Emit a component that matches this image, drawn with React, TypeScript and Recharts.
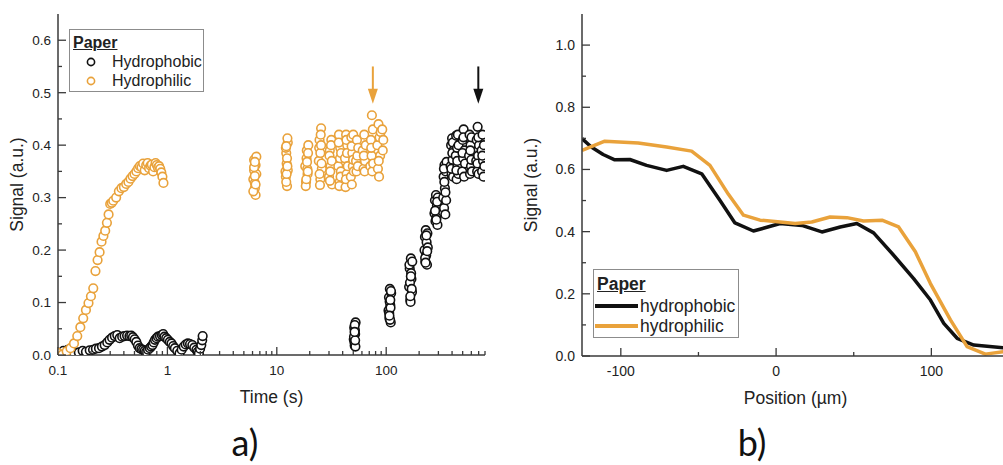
import {
  ScatterChart,
  Scatter,
  LineChart,
  Line,
  XAxis,
  YAxis,
  ReferenceLine,
  Legend
} from 'recharts'

const ORANGE = '#E9A23B'
const BLACK = '#111111'
const AXIS = '#3a3a3a'
const TEXT = '#222222'
const FONT = "'Liberation Sans', Arial, Helvetica, sans-serif"

// ---- panel a: signal vs time, [t (s), signal (a.u.)]
const phobicEarly: [number, number][] = [
  [0.1, 0.003], [0.112, 0.008], [0.123, 0.01], [0.138, 0.006], [0.155, 0.005],
  [0.168, 0.008], [0.18, 0.006], [0.195, 0.009], [0.209, 0.01], [0.222, 0.012],
  [0.237, 0.013], [0.252, 0.016], [0.267, 0.019], [0.282, 0.024], [0.296, 0.029],
  [0.312, 0.033], [0.33, 0.036], [0.348, 0.038], [0.366, 0.032], [0.386, 0.035],
  [0.406, 0.036], [0.428, 0.037], [0.45, 0.036], [0.467, 0.037], [0.484, 0.034],
  [0.502, 0.03], [0.52, 0.025], [0.538, 0.018], [0.557, 0.013], [0.578, 0.011],
  [0.6, 0.01], [0.62, 0.008], [0.64, 0.006], [0.665, 0.01], [0.69, 0.013],
  [0.71, 0.016], [0.73, 0.019], [0.75, 0.024], [0.77, 0.029], [0.795, 0.032],
  [0.82, 0.035], [0.855, 0.036], [0.89, 0.038], [0.915, 0.04], [0.94, 0.035],
  [0.975, 0.032], [1.01, 0.029], [1.05, 0.025], [1.09, 0.022], [1.13, 0.017],
  [1.17, 0.013], [1.23, 0.008], [1.29, 0.003], [1.35, 0.01], [1.41, 0.016],
  [1.47, 0.02], [1.54, 0.022], [1.61, 0.021], [1.69, 0.019], [1.76, 0.014],
  [1.84, 0.01], [1.89, 0.006], [1.94, 0.003], [1.99, 0.012], [2.04, 0.019],
  [2.08, 0.028], [2.1, 0.036]
]

// repeated measurement bursts, one group per line
const phobicBursts: [number, number][] = [
  [50.5, 0.03], [51, 0.052], [51.5, 0.018], [52, 0.04], [52.5, 0.062], [51.2, 0.025], [51.8, 0.047], [52.3, 0.016], [50.8, 0.035], [51.6, 0.057], [52.0, 0.028], [51.4, 0.044],
  [105, 0.085], [106, 0.11], [107, 0.07], [108, 0.126], [109, 0.095], [110, 0.062], [111, 0.118], [106.5, 0.08], [107.5, 0.102], [108.5, 0.067], [109.5, 0.09], [110.5, 0.122], [107, 0.075], [109, 0.105],
  [162, 0.13], [164, 0.165], [166, 0.105], [168, 0.184], [170, 0.145], [172, 0.12], [163, 0.172], [165, 0.138], [167, 0.101], [169, 0.156], [171, 0.126], [173, 0.178], [166, 0.112], [168, 0.15],
  [224, 0.2], [226, 0.225], [228, 0.178], [230, 0.238], [232, 0.19], [234, 0.215], [236, 0.172], [238, 0.232], [240, 0.205], [227, 0.185], [233, 0.228], [237, 0.198], [229, 0.176],
  [276, 0.27], [279, 0.295], [282, 0.255], [285, 0.305], [288, 0.262], [291, 0.285], [294, 0.248], [296, 0.3], [280, 0.275], [287, 0.258], [292, 0.292],
  [332, 0.3], [335, 0.34], [338, 0.28], [341, 0.362], [344, 0.318], [347, 0.268], [350, 0.35], [353, 0.295], [356, 0.368], [340, 0.33], [348, 0.31], [337, 0.355],
  [388, 0.36], [392, 0.4], [396, 0.345], [400, 0.413], [404, 0.372], [408, 0.34], [412, 0.39], [394, 0.355], [402, 0.385], [406, 0.405],
  [432, 0.38], [436, 0.418], [440, 0.335], [444, 0.395], [448, 0.36], [452, 0.42], [456, 0.345], [458, 0.4], [446, 0.37], [438, 0.352],
  [495, 0.35], [500, 0.41], [505, 0.375], [510, 0.43], [515, 0.34], [520, 0.39], [525, 0.365], [508, 0.415], [498, 0.385],
  [572, 0.38], [578, 0.42], [584, 0.345], [590, 0.4], [596, 0.36], [602, 0.415], [608, 0.35], [587, 0.39], [599, 0.372],
  [665, 0.37], [672, 0.41], [678, 0.35], [685, 0.435], [692, 0.38], [698, 0.345], [705, 0.4], [682, 0.365], [695, 0.415],
  [745, 0.39], [752, 0.35], [760, 0.42], [768, 0.37], [775, 0.34], [782, 0.4], [788, 0.36], [756, 0.38]
]

const philicEarly: [number, number][] = [
  [0.1, 0.004], [0.11, 0.001], [0.12, 0.007], [0.13, 0.013], [0.14, 0.022],
  [0.15, 0.036], [0.16, 0.053], [0.17, 0.07], [0.18, 0.086], [0.19, 0.099],
  [0.2, 0.112], [0.21, 0.127], [0.22, 0.16], [0.23, 0.181], [0.24, 0.196],
  [0.25, 0.216], [0.26, 0.227], [0.27, 0.237], [0.28, 0.252], [0.29, 0.268],
  [0.3, 0.288], [0.31, 0.29], [0.32, 0.294], [0.34, 0.3], [0.36, 0.312],
  [0.38, 0.318], [0.4, 0.32], [0.42, 0.326], [0.44, 0.33], [0.46, 0.336],
  [0.48, 0.341], [0.5, 0.345], [0.52, 0.35], [0.54, 0.356], [0.56, 0.36],
  [0.58, 0.358], [0.6, 0.365], [0.62, 0.352], [0.64, 0.362], [0.66, 0.366],
  [0.68, 0.356], [0.7, 0.361], [0.72, 0.363], [0.74, 0.35], [0.76, 0.358],
  [0.78, 0.366], [0.8, 0.362], [0.82, 0.357], [0.84, 0.36], [0.86, 0.355],
  [0.88, 0.348], [0.9, 0.34], [0.92, 0.328]
]

const philicBursts: [number, number][] = [
  [6.1, 0.335], [6.3, 0.318], [6.2, 0.352], [6.4, 0.305], [6.5, 0.345], [6.2, 0.372], [6.3, 0.328], [6.4, 0.362], [6.1, 0.312], [6.5, 0.378], [6.3, 0.341], [6.2, 0.358], [6.4, 0.325], [6.3, 0.368],
  [12.0, 0.35], [12.2, 0.385], [12.4, 0.322], [12.6, 0.405], [12.1, 0.34], [12.3, 0.365], [12.5, 0.413], [12.2, 0.33], [12.4, 0.375], [12.6, 0.352], [12.1, 0.395], [12.3, 0.345], [12.5, 0.36], [12.2, 0.398],
  [18.2, 0.36], [18.5, 0.33], [18.8, 0.39], [19.1, 0.345], [19.4, 0.4], [18.4, 0.322], [18.7, 0.375], [19.0, 0.355], [19.3, 0.385], [18.6, 0.335], [18.9, 0.368], [19.2, 0.35],
  [24.2, 0.37], [24.6, 0.41], [25.0, 0.335], [25.4, 0.432], [25.8, 0.355], [24.4, 0.395], [24.8, 0.324], [25.2, 0.42], [25.6, 0.365], [24.6, 0.345], [25.0, 0.385], [25.4, 0.4],
  [30.0, 0.34], [30.5, 0.39], [31.0, 0.36], [31.5, 0.41], [32.0, 0.325], [30.3, 0.38], [30.8, 0.35], [31.3, 0.4], [31.8, 0.37], [30.6, 0.332],
  [36.5, 0.36], [37, 0.42], [37.5, 0.33], [38, 0.395], [38.5, 0.35], [36.8, 0.405], [37.3, 0.322], [37.8, 0.375], [38.3, 0.34], [38.7, 0.385],
  [42, 0.375], [42.5, 0.32], [43, 0.42], [43.5, 0.345], [44, 0.4], [44.5, 0.36], [42.8, 0.335], [43.3, 0.41], [43.8, 0.385],
  [47.5, 0.34], [48, 0.415], [48.5, 0.325], [49, 0.385], [49.5, 0.36], [50, 0.42], [50.5, 0.35], [48.3, 0.398], [49.8, 0.372],
  [53, 0.37], [53.5, 0.35], [54, 0.41], [54.5, 0.38], [55, 0.36], [55.5, 0.395],
  [61, 0.39], [62, 0.355], [63, 0.42], [64, 0.37], [65, 0.4], [62.5, 0.38], [63.5, 0.35],
  [71.5, 0.36], [72.5, 0.41], [73.5, 0.38], [74, 0.457], [74.5, 0.35], [75.5, 0.43], [73, 0.395], [76, 0.365],
  [83, 0.4], [84, 0.355], [85, 0.44], [86, 0.34], [87, 0.415], [88, 0.38], [89, 0.425], [85.5, 0.37],
  [92, 0.43], [93, 0.39], [94, 0.41]
]

// arrows marking the end points
const arrowTimes = { philic: 75.5, phobic: 695 }
const arrowFrom = 0.55
const arrowTo = 0.479

const timeMajor = [0.1, 1, 10, 100]
const timeMinor = [
  0.2, 0.3, 0.4, 0.5, 0.6, 0.7, 0.8, 0.9, 2, 3, 4, 5, 6, 7, 8, 9,
  20, 30, 40, 50, 60, 70, 80, 90, 200, 300, 400, 500, 600, 700, 800
]
const signalAMajor = [0, 0.1, 0.2, 0.3, 0.4, 0.5, 0.6]
const signalAMinor = [0.05, 0.15, 0.25, 0.35, 0.45, 0.55]

// ---- panel b: signal vs position, [x (um), signal]
const phobicProfile: [number, number][] = [
  [-125, 0.699], [-119, 0.672], [-111.4, 0.648], [-103.9, 0.631], [-94.2, 0.632],
  [-83.4, 0.613], [-70.5, 0.597], [-59.8, 0.61], [-47.9, 0.586], [-36.1, 0.5],
  [-26.5, 0.428], [-14.6, 0.402], [2.6, 0.426], [16.6, 0.42], [29.5, 0.399],
  [41.3, 0.415], [52, 0.426], [62.8, 0.396], [75.7, 0.324], [88.6, 0.249],
  [99.4, 0.18], [108, 0.105], [116.6, 0.057], [127.3, 0.035], [150, 0.025]
]
const philicProfile: [number, number][] = [
  [-125, 0.661], [-110.3, 0.691], [-88.8, 0.685], [-70.5, 0.672], [-54.4, 0.659],
  [-42.6, 0.613], [-30.7, 0.52], [-21, 0.453], [-10.3, 0.437], [1, 0.432],
  [12.3, 0.426], [23, 0.431], [34.8, 0.447], [45.6, 0.445], [56.3, 0.434],
  [68.2, 0.437], [78.9, 0.415], [89.7, 0.335], [99.4, 0.233], [112.3, 0.116],
  [123, 0.03], [134.8, 0.006], [146.6, 0.014], [150, 0.015]
]

const posMajor = [-100, 0, 100]
const posMinor = [-50, 50]
const signalBMajor = [0, 0.2, 0.4, 0.6, 0.8, 1.0]
const signalBMinor = [0.1, 0.3, 0.5, 0.7, 0.9]

const namesA = ['Hydrophobic', 'Hydrophilic']
const namesB = ['hydrophobic', 'hydrophilic']

type Side = 'bottom' | 'top' | 'left' | 'right'

// inward tick marks (long for majors), labels only on bottom/left majors
function makeTick(side: Side, majors: number[], fmt: ((v: number) => string) | null, fontSize: number) {
  return (props: any) => {
    const { x, y, payload } = props
    const v = payload.value as number
    const isMajor = majors.includes(v)
    const len = isMajor ? 8 : 4
    let d = `M${x},${y}v${-len}`
    if (side === 'top') d = `M${x},${y}v${len}`
    if (side === 'left') d = `M${x},${y}h${len}`
    if (side === 'right') d = `M${x},${y}h${-len}`
    let label = null
    if (fmt && isMajor && side === 'bottom') {
      label = (
        <text x={x} y={y + 10} dy="0.71em" textAnchor="middle" fill={TEXT} fontSize={fontSize} fontFamily={FONT}>
          {fmt(v)}
        </text>
      )
    }
    if (fmt && isMajor && side === 'left') {
      label = (
        <text x={x - 7} y={y} dy="0.36em" textAnchor="end" fill={TEXT} fontSize={fontSize} fontFamily={FONT}>
          {fmt(v)}
        </text>
      )
    }
    return (
      <g>
        <path d={d} stroke={AXIS} strokeWidth={1.3} fill="none" />
        {label}
      </g>
    )
  }
}

const ring = (color: string) => (p: any) => (
  <circle cx={p.cx} cy={p.cy} r={4.3} fill="#fff" stroke={color} strokeWidth={1.6} />
)

const arrow = (color: string) => (p: any) => {
  const { x1, y1, x2, y2 } = p
  return (
    <g>
      <line x1={x1} y1={y1} x2={x2} y2={y2 - 12} stroke={color} strokeWidth={2} />
      <path d={`M${x2 - 5},${y2 - 15}L${x2 + 5},${y2 - 15}L${x2},${y2}Z`} fill={color} />
    </g>
  )
}

const toTV = (arr: [number, number][]) => arr.map(([t, v]) => ({ t, v }))
const toPV = (arr: [number, number][]) => arr.map(([pos, v]) => ({ pos, v }))

const legendHead: React.CSSProperties = {
  position: 'absolute',
  fontWeight: 'bold',
  textDecoration: 'underline'
}

function LegendA() {
  const colors = [BLACK, ORANGE]
  return (
    <div style={{ position: 'relative', width: 135, height: 63, boxSizing: 'border-box', border: '1px solid #8c8c8c', background: '#fff', fontFamily: FONT, fontSize: 16, lineHeight: '16px', color: TEXT }}>
      <div style={{ ...legendHead, left: 3, top: 5 }}>Paper</div>
      {namesA.map((n, i) => (
        <div key={n} style={{ position: 'absolute', left: 0, top: 24 + i * 19, height: 16, width: 135 }}>
          <svg width={30} height={16} style={{ position: 'absolute', left: 6, top: 0 }}>
            <circle cx={15} cy={8} r={3.6} fill="#fff" stroke={colors[i]} strokeWidth={1.6} />
          </svg>
          <span style={{ position: 'absolute', left: 42, top: 0 }}>{n}</span>
        </div>
      ))}
    </div>
  )
}

function LegendB() {
  const colors = [BLACK, ORANGE]
  return (
    <div style={{ position: 'relative', width: 146, height: 69, boxSizing: 'border-box', border: '1px solid #8c8c8c', background: '#fff', fontFamily: FONT, fontSize: 17.5, lineHeight: '18px', color: TEXT }}>
      <div style={{ ...legendHead, left: 3, top: 5 }}>Paper</div>
      {namesB.map((n, i) => (
        <div key={n} style={{ position: 'absolute', left: 0, top: 27 + i * 20, height: 18, width: 146 }}>
          <svg width={46} height={18} style={{ position: 'absolute', left: 0, top: 0 }}>
            <line x1={1} y1={9} x2={44} y2={9} stroke={colors[i]} strokeWidth={4} />
          </svg>
          <span style={{ position: 'absolute', left: 46, top: 0 }}>{n}</span>
        </div>
      ))}
    </div>
  )
}

const axisTitle = { fill: TEXT, fontSize: 17.5, fontFamily: FONT }

export default function App() {
  const tA = toTV([...phobicEarly, ...phobicBursts])
  const hA = toTV([...philicEarly, ...philicBursts])
  return (
    <div style={{ position: 'fixed', left: 0, top: 0, width: 1003, height: 465, overflow: 'hidden', background: '#fff' }}>
      <div style={{ position: 'absolute', left: 0, top: 0 }}>
        <ScatterChart width={500} height={465} margin={{ top: 14, right: 15, bottom: 0, left: 0 }}>
          <XAxis
            xAxisId="a"
            dataKey="t"
            type="number"
            scale="log"
            domain={[0.1, 800]}
            allowDataOverflow
            ticks={[...timeMajor, ...timeMinor]}
            interval={0}
            height={110}
            tickSize={0}
            tickMargin={0}
            tickLine={false}
            tick={makeTick('bottom', timeMajor, (v) => String(v), 13.5)}
            stroke={AXIS}
            strokeWidth={1.5}
            label={{ value: 'Time (s)', position: 'insideTop', offset: 36, ...axisTitle }}
          />
          <XAxis
            xAxisId="aTop"
            orientation="top"
            type="number"
            scale="log"
            domain={[0.1, 800]}
            allowDataOverflow
            ticks={[...timeMajor, ...timeMinor]}
            interval={0}
            height={0}
            tickSize={0}
            tickMargin={0}
            tickLine={false}
            tick={makeTick('top', timeMajor, null, 13)}
            stroke={AXIS}
            strokeWidth={1.5}
          />
          <YAxis
            yAxisId="a"
            dataKey="v"
            type="number"
            domain={[0, 0.65]}
            allowDataOverflow
            ticks={[...signalAMajor, ...signalAMinor]}
            interval={0}
            width={58}
            tickSize={0}
            tickMargin={0}
            tickLine={false}
            tick={makeTick('left', signalAMajor, (v) => v.toFixed(1), 13.5)}
            stroke={AXIS}
            strokeWidth={1.5}
            label={{ value: 'Signal (a.u.)', angle: -90, position: 'insideLeft', offset: 17, style: { textAnchor: 'middle' }, ...axisTitle }}
          />
          <YAxis
            yAxisId="aRight"
            orientation="right"
            type="number"
            domain={[0, 0.65]}
            allowDataOverflow
            ticks={[...signalAMajor, ...signalAMinor]}
            interval={0}
            width={0}
            tickSize={0}
            tickMargin={0}
            tickLine={false}
            tick={makeTick('right', signalAMajor, null, 13)}
            stroke={AXIS}
            strokeWidth={1.5}
          />
          <Scatter xAxisId="a" yAxisId="a" name={namesA[0]} data={tA} shape={ring(BLACK)} isAnimationActive={false} />
          <Scatter xAxisId="a" yAxisId="a" name={namesA[1]} data={hA} shape={ring(ORANGE)} isAnimationActive={false} />
          <ReferenceLine
            xAxisId="a"
            yAxisId="a"
            segment={[{ x: arrowTimes.philic, y: arrowFrom }, { x: arrowTimes.philic, y: arrowTo }]}
            shape={arrow(ORANGE)}
          />
          <ReferenceLine
            xAxisId="a"
            yAxisId="a"
            segment={[{ x: arrowTimes.phobic, y: arrowFrom }, { x: arrowTimes.phobic, y: arrowTo }]}
            shape={arrow(BLACK)}
          />
          <Legend
            layout="horizontal"
            verticalAlign="middle"
            align="center"
            wrapperStyle={{ left: 69, top: 29, width: 135, height: 63 }}
            content={() => <LegendA />}
          />
        </ScatterChart>
      </div>

      <div style={{ position: 'absolute', left: 520, top: 0 }}>
        <LineChart width={500} height={465} margin={{ top: 14, right: 11, bottom: 0, left: 0 }}>
          <XAxis
            xAxisId="b"
            dataKey="pos"
            type="number"
            domain={[-125, 150]}
            allowDataOverflow
            ticks={[...posMajor, ...posMinor]}
            interval={0}
            height={109}
            tickSize={0}
            tickMargin={0}
            tickLine={false}
            tick={makeTick('bottom', posMajor, (v) => String(v), 14)}
            stroke={AXIS}
            strokeWidth={1.5}
            label={{ value: 'Position (µm)', position: 'insideTop', offset: 36, ...axisTitle }}
          />
          <XAxis
            xAxisId="bTop"
            orientation="top"
            type="number"
            domain={[-125, 150]}
            allowDataOverflow
            ticks={[...posMajor, ...posMinor]}
            interval={0}
            height={0}
            tickSize={0}
            tickMargin={0}
            tickLine={false}
            tick={makeTick('top', posMajor, null, 14)}
            stroke={AXIS}
            strokeWidth={1.5}
          />
          <YAxis
            yAxisId="b"
            dataKey="v"
            type="number"
            domain={[0, 1.1]}
            allowDataOverflow
            ticks={[...signalBMajor, ...signalBMinor]}
            interval={0}
            width={62}
            tickSize={0}
            tickMargin={0}
            tickLine={false}
            tick={makeTick('left', signalBMajor, (v) => v.toFixed(1), 14)}
            stroke={AXIS}
            strokeWidth={1.5}
            label={{ value: 'Signal (a.u.)', angle: -90, position: 'insideLeft', offset: 11, style: { textAnchor: 'middle' }, ...axisTitle }}
          />
          <YAxis
            yAxisId="bRight"
            orientation="right"
            type="number"
            domain={[0, 1.1]}
            allowDataOverflow
            ticks={[...signalBMajor, ...signalBMinor]}
            interval={0}
            width={0}
            tickSize={0}
            tickMargin={0}
            tickLine={false}
            tick={makeTick('right', signalBMajor, null, 14)}
            stroke={AXIS}
            strokeWidth={1.5}
          />
          <Line
            xAxisId="b"
            yAxisId="b"
            name={namesB[0]}
            data={toPV(phobicProfile)}
            dataKey="v"
            type="linear"
            stroke={BLACK}
            strokeWidth={3.5}
            strokeLinejoin="round"
            dot={false}
            activeDot={false}
            isAnimationActive={false}
          />
          <Line
            xAxisId="b"
            yAxisId="b"
            name={namesB[1]}
            data={toPV(philicProfile)}
            dataKey="v"
            type="linear"
            stroke={ORANGE}
            strokeWidth={3.5}
            strokeLinejoin="round"
            dot={false}
            activeDot={false}
            isAnimationActive={false}
          />
          <Legend
            layout="horizontal"
            verticalAlign="middle"
            align="center"
            wrapperStyle={{ left: 73, top: 269, width: 146, height: 69 }}
            content={() => <LegendB />}
          />
        </LineChart>
      </div>

      <div style={{ position: 'absolute', left: 195, top: 424, width: 100, textAlign: 'center', fontFamily: 'Lato, sans-serif', fontSize: 36, lineHeight: '36px', color: '#111' }}>
        a)
      </div>
      <div style={{ position: 'absolute', left: 702, top: 424, width: 100, textAlign: 'center', fontFamily: 'Lato, sans-serif', fontSize: 36, lineHeight: '36px', color: '#111' }}>
        b)
      </div>
    </div>
  )
}
